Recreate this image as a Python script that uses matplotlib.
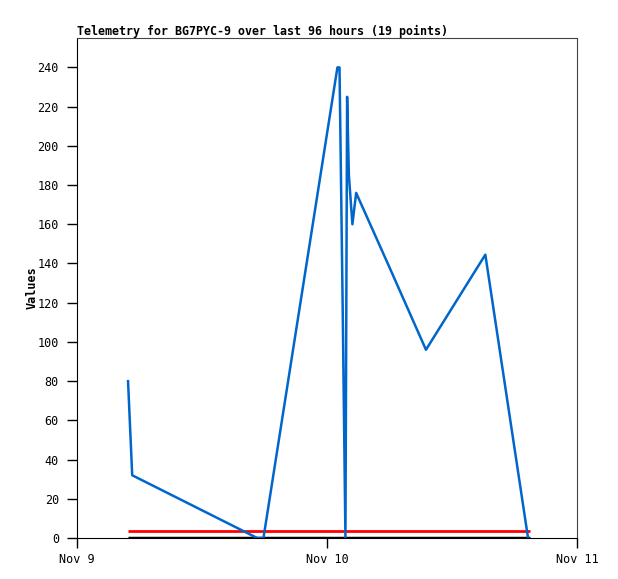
import matplotlib
matplotlib.use('Agg')
import matplotlib.pyplot as plt
import numpy as np

# hours since Nov 9 00:00 and telemetry values
hours = [4.9, 5.1, 5.3, 11.0, 17.3, 17.9, 21.5, 25.0, 25.2, 25.5,
         25.77, 25.93, 26.1, 26.44, 26.8, 30.0, 33.5, 39.2, 43.3]
values = [80, 56, 32, 16.8, 0, 0, 121.7, 240, 240, 120,
          0, 225, 185, 160, 176, 138, 96, 144.5, 0]

red_level = 3.7
black_level = 0
span = [4.9, 43.5]

tick_pos = [0, 24, 48]
tick_labels = ['Nov 9', 'Nov 10', 'Nov 11']
yticks = list(range(0, 241, 20))

mono = 'DejaVu Sans Mono'

fig = plt.figure(figsize=(6.18, 5.79), dpi=100)
ax = fig.add_axes([77 / 618, 1 - 538 / 579, 500 / 618, 500 / 579])

ax.plot(span, [black_level, black_level], color='black', lw=2.5, solid_capstyle='butt')
ax.plot(span, [red_level, red_level], color='#ff0000', lw=2, solid_capstyle='butt')
ax.plot(hours, values, color='#0066cc', lw=1.8)

ax.set_xlim(0, 48)
ax.set_ylim(0, 255)
ax.set_xticks(tick_pos)
ax.set_xticklabels(tick_labels, family=mono, fontsize=8.5)
ax.set_yticks(yticks)
ax.set_yticklabels([str(v) for v in yticks], family=mono, fontsize=8.5)
ax.tick_params(direction='out', length=7, width=1)
ax.tick_params(axis='y', pad=6)
ax.tick_params(axis='x', pad=4)

for side in ['top', 'right']:
    ax.spines[side].set_color('#444444')
ax.spines['left'].set_color('black')
ax.spines['bottom'].set_color('black')

ax.set_ylabel('Values', family=mono, fontsize=8.5, fontweight='bold', labelpad=-1)
ax.set_title('Telemetry for BG7PYC-9 over last 96 hours (19 points)',
             family=mono, fontsize=8.4, fontweight='bold', loc='left', pad=2)

fig.savefig('out.png', dpi=100)
